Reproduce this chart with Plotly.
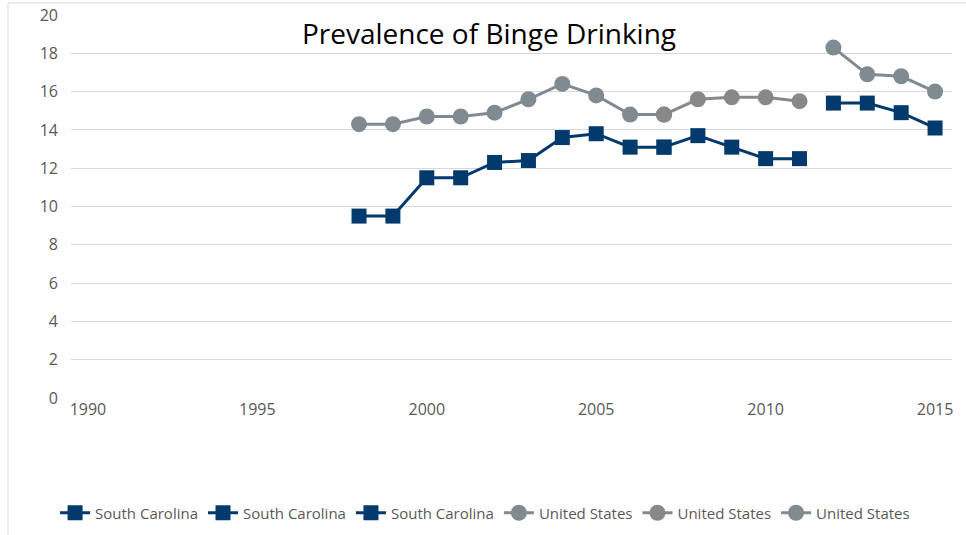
import plotly.graph_objects as go

years_sc1 = [1998, 1999, 2000, 2001, 2002, 2003, 2004, 2005, 2006, 2007]
sc1 = [9.5, 9.5, 11.5, 11.5, 12.3, 12.4, 13.6, 13.8, 13.1, 13.1]
years_sc2 = [2007, 2008, 2009, 2010, 2011]
sc2 = [13.1, 13.7, 13.1, 12.5, 12.5]
years_sc3 = [2012, 2013, 2014, 2015]
sc3 = [15.4, 15.4, 14.9, 14.1]

years_us1 = [1998, 1999, 2000, 2001, 2002, 2003, 2004, 2005, 2006, 2007]
us1 = [14.3, 14.3, 14.7, 14.7, 14.9, 15.6, 16.4, 15.8, 14.8, 14.8]
years_us2 = [2007, 2008, 2009, 2010, 2011]
us2 = [14.8, 15.6, 15.7, 15.7, 15.5]
years_us3 = [2012, 2013, 2014, 2015]
us3 = [18.3, 16.9, 16.8, 16.0]

x_ticks = [1990, 1995, 2000, 2005, 2010, 2015]
y_ticks = [0, 2, 4, 6, 8, 10, 12, 14, 16, 18, 20]

NAVY = "#023a6d"
BGREY = "#7f8a91"
GREY = "#888888"

fig = go.Figure()

def add(x, y, name, color, symbol, size):
    fig.add_trace(go.Scatter(
        x=x, y=y, name=name, mode="lines+markers",
        line=dict(color=color, width=3),
        marker=dict(symbol=symbol, size=size, color=color),
        cliponaxis=False,
    ))

add(years_us1, us1, "United States", BGREY, "circle", 16)
add(years_us2, us2, "United States", GREY, "circle", 16)
add(years_us3, us3, "United States", BGREY, "circle", 16)
add(years_sc1, sc1, "South Carolina", NAVY, "square", 15)
add(years_sc2, sc2, "South Carolina", NAVY, "square", 15)
add(years_sc3, sc3, "South Carolina", NAVY, "square", 15)

# legend order: SC first
for i, tr in enumerate(fig.data):
    tr.legendrank = (i + 3) % 6 + 1

W, H = 966, 535
L, R, T, B = 71, 14, 15, 137
pw, ph = W - L - R, H - T - B

fig.update_layout(
    width=W, height=H,
    margin=dict(l=L, r=R, t=T, b=B, autoexpand=False),
    paper_bgcolor="white", plot_bgcolor="white",
    font=dict(family="Open Sans", color="#595959", size=16),
    title=dict(text="Prevalence of Binge Drinking", x=489 / W,
               xanchor="center", y=1 - 34 / H, yanchor="middle", yref="container",
               font=dict(family="Open Sans", size=28, color="#000000")),
    showlegend=True,
    legend=dict(orientation="h", x=0.47, xanchor="center", y=-115 / ph, yanchor="middle",
                font=dict(size=15, color="#595959"), itemwidth=30, tracegroupgap=0,
                traceorder="normal"),
    xaxis=dict(range=[1989.5, 2015.5], tickvals=x_ticks, showgrid=False, zeroline=False,
               showline=False, ticks="", tickfont=dict(size=16, color="#595959")),
    yaxis=dict(range=[0, 20], tickvals=y_ticks, showgrid=True, gridcolor="#d9d9d9", gridwidth=1,
               zeroline=False, showline=False, ticks="", ticklabelstandoff=12,
               tickfont=dict(size=16, color="#595959")),
    shapes=[dict(type="rect", xref="paper", yref="paper",
                 x0=(8 - L) / pw, x1=(W + 20 - L) / pw,
                 y0=-(H - T - ph + 20) / ph, y1=1 + (T - 3) / ph,
                 line=dict(color="#d9d9d9", width=1), layer="below")],
)

post = ("document.body.style.margin='0';document.body.style.overflow='hidden';"
        "var gd=document.getElementById('{plot_id}');gd.style.position='absolute';"
        "gd.style.left='0px';gd.style.top='0px';")

fig.write_html("out.html", post_script=post, config={"displayModeBar": False})
